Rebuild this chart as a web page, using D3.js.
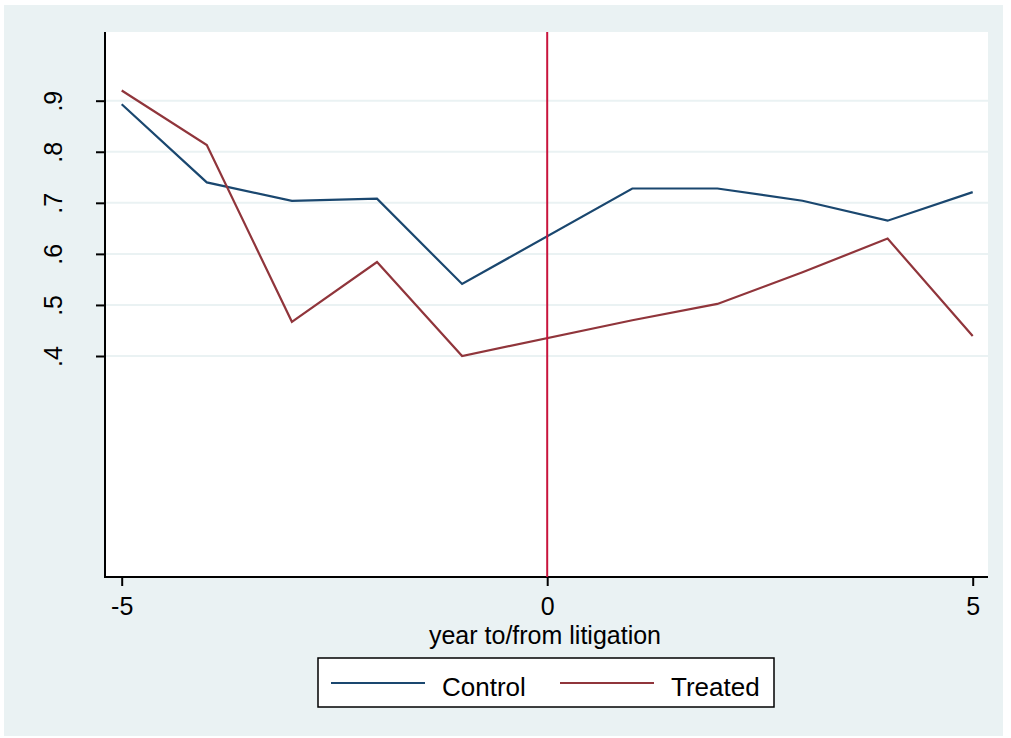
<!DOCTYPE html>
<html><head><meta charset="utf-8">
<script src="https://cdn.jsdelivr.net/npm/d3@7"></script>
<style>body{margin:0;background:#fff}svg{display:block}text{font-family:"Liberation Sans",Arial,sans-serif;fill:#000}</style>
</head><body><svg id="c" width="1011" height="738"></svg>
<script>
const years = [-5,-4,-3,-2,-1,1,2,3,4,5];
const control = [0.893,0.740,0.704,0.708,0.541,0.728,0.728,0.704,0.665,0.721];
const treated = [0.920,0.813,0.467,0.584,0.400,0.470,0.502,0.564,0.630,0.439];
const yTicks = [0.4,0.5,0.6,0.7,0.8,0.9];
const yTickLabels = [".4",".5",".6",".7",".8",".9"];
const xTicks = [-5,0,5];
const xTickLabels = ["-5","0","5"];
const seriesNames = ["Control","Treated"];
const seriesColors = ["#1a476f","#90353b"];
const refYear = 0;

const svg = d3.select("#c");
const bg = "#eaf2f3";
svg.append("rect").attr("x",4).attr("y",5).attr("width",999).attr("height",731).attr("fill",bg);

const plot = {l:104,r:988,t:32,b:577};
svg.append("rect").attr("x",plot.l).attr("y",plot.t).attr("width",plot.r-plot.l).attr("height",plot.b-plot.t).attr("fill","#fff");

const x = d3.scaleLinear().domain([-5,5]).range([121.7,972.7]);
const y = d3.scaleLinear().domain([0.4,0.9]).range([356,100.7]);

// gridlines
svg.append("g").selectAll("line").data(yTicks).join("line")
  .attr("x1",plot.l).attr("x2",plot.r).attr("y1",d=>y(d)).attr("y2",d=>y(d))
  .attr("stroke",bg).attr("stroke-width",2);

// y axis
const yAxis = d3.axisLeft(y).tickValues(yTicks).tickSize(9).tickFormat((d,i)=>yTickLabels[i]);
const gy = svg.append("g").attr("transform",`translate(${plot.l+1},0)`).call(yAxis);
gy.select(".domain").remove();
gy.selectAll(".tick line").attr("stroke","#000").attr("stroke-width",2);
gy.selectAll(".tick text").attr("font-size",25).attr("text-anchor","middle")
  .attr("x",null).attr("dy",null)
  .attr("transform","translate(-43,0) rotate(-90)").attr("y",0);
svg.append("line").attr("x1",plot.l+1).attr("x2",plot.l+1).attr("y1",plot.t).attr("y2",plot.b+1)
  .attr("stroke","#000").attr("stroke-width",2);

// x axis
const xAxis = d3.axisBottom(x).tickValues(xTicks).tickSize(9).tickFormat((d,i)=>xTickLabels[i]);
const gx = svg.append("g").attr("transform",`translate(0,${plot.b})`).call(xAxis);
gx.select(".domain").remove();
gx.selectAll(".tick line").attr("stroke","#000").attr("stroke-width",2);
gx.selectAll(".tick text").attr("font-size",25).attr("dy",null).attr("y",38);
svg.append("line").attr("x1",plot.l).attr("x2",plot.r).attr("y1",plot.b).attr("y2",plot.b)
  .attr("stroke","#000").attr("stroke-width",2);

svg.append("text").attr("x",(plot.l+plot.r)/2 - 1).attr("y",644).attr("text-anchor","middle")
  .attr("font-size",25).text("year to/from litigation");

// lines
const line = d3.line().x((d,i)=>x(years[i])).y(d=>y(d));
[control,treated].forEach((s,k)=>{
  svg.append("path").attr("d",line(s)).attr("fill","none")
    .attr("stroke",seriesColors[k]).attr("stroke-width",2.2).attr("stroke-linejoin","miter");
});

// reference line
svg.append("line").attr("x1",x(refYear)).attr("x2",x(refYear)).attr("y1",plot.t).attr("y2",plot.b)
  .attr("stroke","#c8143c").attr("stroke-width",2);

// legend
const lg = svg.append("g");
lg.append("rect").attr("x",318).attr("y",658).attr("width",456).attr("height",49)
  .attr("fill","#fff").attr("stroke","#000").attr("stroke-width",1.5);
const lx = [331,560];
seriesNames.forEach((n,k)=>{
  lg.append("line").attr("x1",lx[k]).attr("x2",lx[k]+94).attr("y1",683).attr("y2",683)
    .attr("stroke",seriesColors[k]).attr("stroke-width",2);
  lg.append("text").attr("x",lx[k]+111).attr("y",696).attr("font-size",26).text(n);
});
</script></body></html>
